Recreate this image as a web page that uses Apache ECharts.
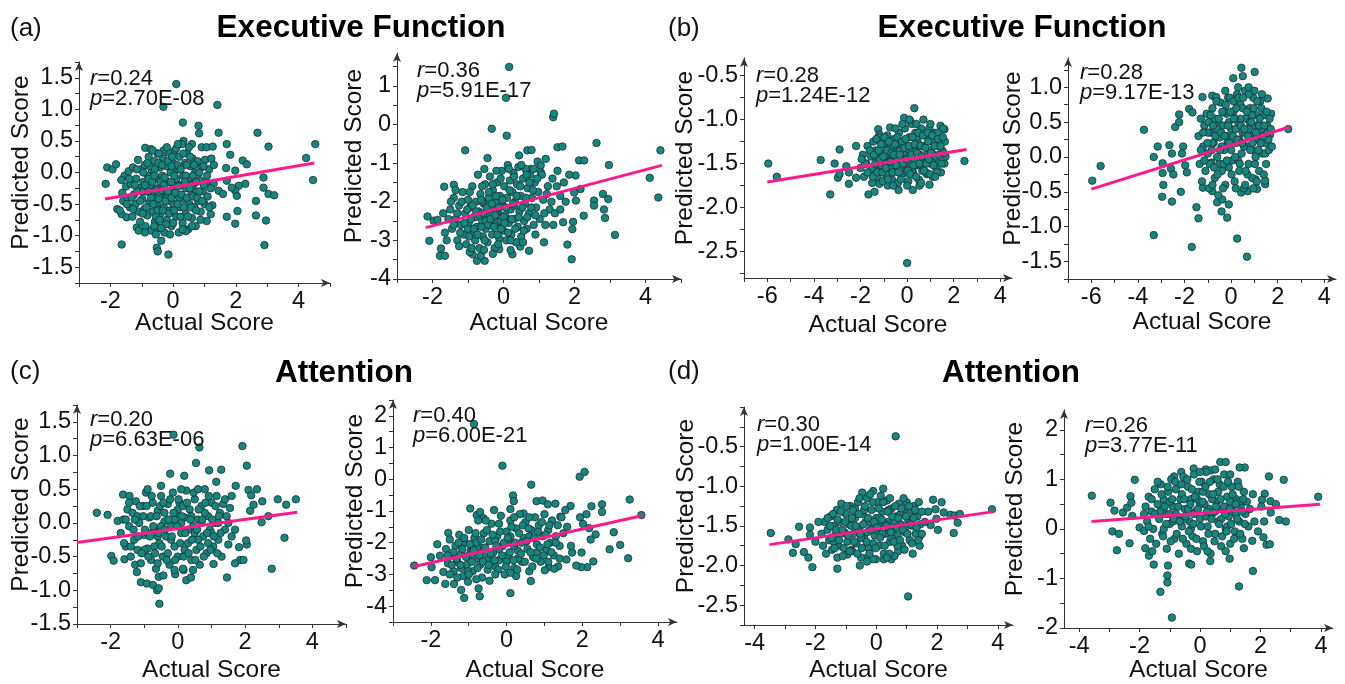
<!DOCTYPE html>
<html>
<head>
<meta charset="utf-8">
<title>Predicted vs actual scores</title>
<script src="https://cdn.jsdelivr.net/npm/echarts@6.0.0/dist/echarts.min.js"></script>
<style>
  html, body { margin: 0; padding: 0; background: #fff; }
  #chart { width: 1345px; height: 684px; }
</style>
</head>
<body>
<div id="chart"></div>
<script>
// ---- values ----
var titles = ['Executive Function', 'Executive Function', 'Attention', 'Attention'];
var panelTags = ['(a)', '(b)', '(c)', '(d)'];

var a1Stat = ['0.24', '2.70E-08'];
var a2Stat = ['0.36', '5.91E-17'];
var b1Stat = ['0.28', '1.24E-12'];
var b2Stat = ['0.28', '9.17E-13'];
var c1Stat = ['0.20', '6.63E-06'];
var c2Stat = ['0.40', '6.00E-21'];
var d1Stat = ['0.30', '1.00E-14'];
var d2Stat = ['0.26', '3.77E-11'];

var xLabelsAC = [-2, 0, 2, 4];
var xLabelsB = [-6, -4, -2, 0, 2, 4];
var xLabelsD = [-4, -2, 0, 2, 4];
var a1YLabels = [-1.5, -1, -0.5, 0, 0.5, 1, 1.5];
var a2YLabels = [-4, -3, -2, -1, 0, 1];
var b1YLabels = [-2.5, -2, -1.5, -1, -0.5];
var b2YLabels = [-1.5, -1, -0.5, 0, 0.5, 1];
var c1YLabels = [-1.5, -1, -0.5, 0, 0.5, 1, 1.5];
var c2YLabels = [-4, -3, -2, -1, 0, 1, 2];
var d1YLabels = [-2.5, -2, -1.5, -1, -0.5];
var d2YLabels = [-2, -1, 0, 1, 2];

var a1Fit = [[-2.17, -0.42], [4.5, 0.15]];
var a2Fit = [[-2.19, -2.67], [4.46, -1.06]];
var b1Fit = [[-6.0, -1.71], [2.55, -1.34]];
var b2Fit = [[-6.0, -0.46], [2.5, 0.43]];
var c1Fit = [[-3.0, -0.29], [3.55, 0.16]];
var c2Fit = [[-2.47, -2.76], [3.57, -1.15]];
var d1Fit = [[-3.51, -1.736], [3.86, -1.32]];
var d2Fit = [[-3.59, 0.15], [3.97, 0.5]];

var a1Points = [
  [-2.15,-0.18],[-2.1,0.08],[-1.93,0.05],[-1.82,0.13],[-1.64,-1.14],[-1.78,-0.58],[-1.64,-0.66],[-1.48,-0.71],
  [-1.59,-0.45],[-1.16,-0.87],[-1.1,-0.92],[-0.89,0.39],[-0.71,0.37],[-0.52,-1.19],[-0.49,-1.25],[-0.38,-1.08],
  [-0.15,-1.3],[-0.31,1.04],[0.1,1.4],[0.31,0.79],[0.83,0.62],[0.81,0.74],[1.41,1.07],[1.45,0.63],[0.33,0.5],
  [0.6,0.45],[0.91,0.4],[1.07,0.4],[1.26,0.41],[1.71,0.45],[1.82,0.28],[2.22,0.19],[2.35,0.13],[1.98,0.03],
  [2.09,-0.21],[2.3,-0.18],[1.98,-0.29],[2.03,-0.37],[1.69,0.07],[1.71,-0.13],[1.87,-0.24],[1.45,-0.29],
  [1.59,-0.34],[1.29,-0.18],[1.2,-0.66],[1.07,-0.77],[1.71,-0.7],[1.98,-0.81],[2.05,-0.61],[2.69,0.63],
  [3.04,0.41],[2.88,-0.08],[2.88,-0.24],[3.04,-0.34],[3.22,-0.36],[2.64,-0.45],[2.64,-0.68],[2.96,-0.76],
  [2.91,-1.15],[4.24,0.23],[4.53,0.45],[4.46,-0.12],
  [-1.62,-0.32],[-1.55,-0.05],[-1.5,-0.22],[-1.45,-0.4],[-1.42,0.02],[-1.38,-0.55],[-1.35,-0.18],[-1.3,-0.7],
  [-1.28,0.08],[-1.25,-0.35],[-1.2,-0.5],[-1.18,-0.1],[-1.12,0.2],[-1.1,-0.62],[-1.08,-0.25],[-1.05,-0.78],
  [-1.02,0.05],[-0.98,-0.42],[-0.95,-0.15],[-0.92,-0.58],[-0.9,0.12],[-0.88,-0.85],[-0.85,-0.3],[-0.82,-0.68],
  [-0.8,-0.05],[-0.78,0.25],[-0.75,-0.48],[-0.72,-0.2],[-0.7,-0.92],[-0.68,0.05],[-0.65,-0.62],[-0.62,-0.35],
  [-0.6,0.18],[-0.58,-0.78],[-0.55,-0.1],[-0.52,-0.5],[-0.5,0.3],[-0.48,-0.25],[-0.45,-0.88],[-0.42,0.08],
  [-0.4,-0.65],[-0.38,-0.4],[-0.35,-0.05],[-0.32,0.22],[-0.3,-0.55],[-0.28,-0.95],[-0.25,-0.3],[-0.22,0.1],
  [-0.2,-0.75],[-0.18,-0.15],[-0.15,0.32],[-0.12,-0.45],[-0.1,-0.6],[-0.08,0.0],[-0.05,-0.85],[-0.02,-0.28],
  [0.0,0.15],[0.02,-0.5],[0.05,0.35],[0.08,-0.12],[0.1,-0.7],[0.12,-0.35],[0.15,0.05],[0.18,-0.95],[0.2,0.25],
  [0.22,-0.55],[0.25,-0.2],[0.28,0.45],[0.3,-0.8],[0.32,-0.05],[0.35,-0.42],[0.38,0.15],[0.4,-0.65],[0.42,-0.25],
  [0.45,0.3],[0.48,-0.9],[0.5,-0.1],[0.52,-0.5],[0.55,0.1],[0.58,-0.35],[0.6,-0.72],[0.62,0.22],[0.65,-0.18],
  [0.68,-0.55],[0.7,0.0],[0.72,-0.85],[0.75,-0.3],[0.78,0.18],[0.8,-0.45],[0.85,-0.12],[0.88,-0.62],[0.9,0.08],
  [0.95,-0.3],[1.0,-0.5],[1.02,0.2],[1.05,-0.15],[1.1,-0.38],[1.15,0.05],[1.2,-0.25],[1.25,-0.52],[1.3,0.12],
  [-1.7,-0.6],[-1.65,-0.12],[-0.65,0.35],[-0.3,0.35],[0.1,0.38],[-0.9,-0.95],[-0.55,-0.98],[-0.1,-0.98],[0.4,-0.93],
  [-0.6,-0.3],[-0.4,-0.15],[-0.2,-0.4],[0.0,-0.2],[0.2,-0.4],[0.4,-0.05],[-0.8,-0.3],[-0.5,-0.6],[0.1,-0.1],
  [-0.3,-0.2],[0.6,-0.2],[-1.0,-0.3],
  [-1.15,-0.3],[-1.05,-0.45],[-0.95,0.0],[-0.9,-0.2],[-0.85,-0.55],[-0.78,-0.1],[-0.75,0.1],[-0.7,-0.4],
  [-0.66,-0.15],[-0.63,-0.5],[-0.58,0.05],[-0.55,-0.7],[-0.53,-0.28],[-0.47,0.15],[-0.45,-0.42],[-0.43,-0.75],
  [-0.37,-0.28],[-0.35,0.12],[-0.33,-0.6],[-0.27,-0.08],[-0.25,-0.45],[-0.23,-0.82],[-0.17,0.18],[-0.16,-0.3],
  [-0.13,-0.65],[-0.07,-0.15],[-0.05,-0.4],[-0.03,0.25],[0.03,-0.6],[0.04,-0.05],[0.07,-0.32],[0.13,0.12],
  [0.14,-0.5],[0.17,-0.22],[0.23,-0.7],[0.24,0.05],[0.27,-0.35],[0.33,0.3],[0.34,-0.55],[0.37,-0.15],
  [0.43,0.12],[0.44,-0.4],[0.47,-0.7],[0.53,-0.25],[0.54,0.25],[0.57,-0.55],[0.63,-0.05],[0.64,-0.38],
  [0.67,0.12],[0.73,-0.6],[0.74,-0.15],[0.77,-0.4],[0.83,0.0],[0.84,-0.3],[0.87,-0.75],[0.93,-0.45],
  [0.97,0.1],[-1.22,-0.2],[-1.32,-0.4],[-1.4,-0.1],[-1.48,-0.5],[-1.27,-0.58],[-1.16,0.05],[-0.97,-0.65],
  [-0.82,0.15],[-0.6,-0.85],[-0.38,-0.88],[0.0,-0.8],[0.3,-0.9],[0.6,-0.85],[0.5,0.4],[0.15,0.45],
  [-0.2,0.4],[-0.45,0.3],[1.08,-0.05],[1.15,-0.55],[1.22,0.22],[0.98,-0.2],[-0.05,0.1],[-0.6,-0.05]
];

var a2Points = [
  [0.16,1.49],[0.07,0.69],[1.4,0.19],[1.42,0.28],[-0.33,-0.11],[0.09,-0.29],[-1.08,-0.67],[2.62,-0.48],
  [1.52,-0.59],[1.66,-0.57],[4.42,-0.67],[2.97,-1.05],[2.13,-0.93],[2.27,-0.93],[4.12,-1.38],[4.36,-1.89],
  [2.8,-1.8],[2.95,-1.93],[2.83,-2.2],[2.86,-2.42],[2.55,-1.97],[2.55,-2.1],[3.14,-2.86],[2.26,-2.36],
  [1.94,-2.71],[1.96,-2.52],[1.68,-2.53],[1.8,-3.11],[1.92,-3.49],[1.99,-1.76],[2.04,-1.97],[2.17,-1.67],
  [2.03,-1.32],[-2.14,-2.38],[-2.09,-3.01],[-1.79,-3.4],[-1.65,-3.4],[-1.76,-3.21],[-1.67,-1.61],[-1.4,-1.56],
  [-1.97,-2.49],[-1.86,-2.47],[-0.75,-3.53],[-0.53,-3.53],[-0.64,-3.4],[-0.87,-3.36],[0.25,-3.36],[-0.12,-3.23],
  [0.47,-3.16],[0.72,-3.27],[1.14,-3.05],[-0.45,-0.87],[-0.54,-1.15],[0.44,-0.8],[0.67,-0.67],[0.79,-0.66],
  [0.96,-0.96],[1.19,-0.89],[1.05,-1.06],[1.05,-1.24],[0.77,-1.15],
  [-1.5,-2.2],[-1.45,-2.7],[-1.4,-1.9],[-1.35,-2.45],[-1.3,-3.0],[-1.25,-2.1],[-1.2,-2.6],[-1.15,-1.75],
  [-1.12,-2.85],[-1.08,-2.3],[-1.05,-3.1],[-1.0,-1.95],[-0.98,-2.55],[-0.95,-2.15],[-0.9,-2.8],[-0.88,-1.6],
  [-0.85,-2.4],[-0.8,-3.0],[-0.78,-2.0],[-0.75,-2.65],[-0.72,-1.3],[-0.7,-2.25],[-0.68,-3.2],[-0.65,-1.8],
  [-0.6,-2.5],[-0.58,-2.9],[-0.55,-2.05],[-0.52,-1.55],[-0.5,-2.7],[-0.48,-2.3],[-0.45,-3.05],[-0.42,-1.9],
  [-0.4,-2.5],[-0.38,-1.35],[-0.35,-2.15],[-0.32,-2.85],[-0.3,-1.7],[-0.28,-2.4],[-0.25,-3.2],[-0.22,-2.0],
  [-0.2,-2.6],[-0.18,-1.5],[-0.15,-2.25],[-0.12,-2.95],[-0.1,-1.85],[-0.08,-2.5],[-0.05,-1.2],[-0.02,-2.1],
  [0.0,-2.75],[0.02,-1.6],[0.05,-2.35],[0.08,-3.0],[0.1,-1.9],[0.12,-1.05],[0.15,-2.55],[0.18,-1.45],
  [0.2,-2.2],[0.22,-2.85],[0.25,-1.75],[0.28,-1.25],[0.3,-2.45],[0.32,-2.0],[0.35,-3.05],[0.38,-1.55],
  [0.4,-2.65],[0.42,-1.1],[0.45,-2.25],[0.48,-1.85],[0.5,-2.9],[0.55,-1.4],[0.58,-2.5],[0.6,-2.05],
  [0.62,-1.15],[0.65,-2.7],[0.68,-1.65],[0.72,-2.3],[0.75,-1.3],[0.8,-1.9],[0.85,-2.6],[0.88,-1.5],
  [0.92,-2.15],[0.98,-1.75],[1.02,-2.45],[1.08,-1.3],[1.12,-1.95],[1.18,-2.6],[1.25,-1.6],[1.3,-2.2],
  [1.38,-1.4],[1.45,-2.3],[1.52,-1.2],[1.6,-1.85],[1.7,-1.5],[1.75,-2.0],[1.85,-1.3],[-1.65,-2.8],
  [-1.7,-2.3],[-1.6,-3.0],[-0.3,-3.35],[-0.95,-3.3],[0.2,-3.25],[-0.6,-2.0],[-0.4,-2.2],[-0.2,-2.3],
  [0.0,-2.4],[-0.8,-2.4],[-0.5,-2.5],[0.3,-2.1],[-1.0,-2.7],
  [-1.3,-2.3],[-1.22,-2.8],[-1.18,-2.0],[-1.1,-2.55],[-1.02,-2.2],[-0.97,-2.9],[-0.92,-2.45],[-0.87,-2.1],
  [-0.83,-2.7],[-0.77,-2.25],[-0.73,-2.85],[-0.67,-2.35],[-0.63,-1.95],[-0.62,-2.65],[-0.57,-2.3],[-0.53,-3.0],
  [-0.47,-2.15],[-0.43,-2.6],[-0.41,-1.75],[-0.37,-2.45],[-0.33,-2.05],[-0.27,-2.65],[-0.23,-2.35],[-0.21,-1.85],
  [-0.17,-2.85],[-0.13,-2.15],[-0.07,-2.7],[-0.03,-1.95],[0.03,-2.55],[0.07,-2.15],[0.13,-2.8],[0.17,-1.7],
  [0.23,-2.45],[0.27,-2.05],[0.33,-2.7],[0.37,-1.85],[0.43,-2.4],[0.47,-1.6],[0.53,-2.15],[0.57,-2.75],
  [0.63,-1.9],[0.67,-2.4],[0.73,-1.5],[0.78,-2.15],[0.83,-1.7],[0.9,-2.35],[0.95,-1.4],[-1.4,-2.6],
  [-1.48,-2.0],[-1.55,-2.45],[-1.35,-1.7],[-1.25,-3.15],[-0.9,-3.2],[-0.55,-3.25],[-0.15,-3.1],[0.2,-3.0],
  [0.55,-3.05],[0.9,-2.85],[1.15,-2.3],[1.22,-1.8],[1.35,-2.0],[-0.08,-1.4],[0.3,-1.35],[-0.3,-1.55],
  [0.65,-1.3],[-0.6,-1.6],[-0.95,-1.75],[-0.2,-1.2],[0.15,-1.15],[0.5,-1.05],[0.85,-1.15],[1.5,-1.6],
  [1.6,-2.2],[1.4,-2.6]
];

var b1Points = [
  [-5.96,-1.5],[-5.59,-1.65],[-3.71,-1.46],[-3.3,-1.85],[-3.11,-1.5],[-2.9,-1.34],[-2.97,-1.66],[-2.9,-1.62],
  [-2.19,-1.3],[-2.61,-1.53],[-2.5,-1.6],[-2.5,-1.73],[-2.19,-1.66],[-1.66,-1.85],[-1.4,-1.82],[0.31,-0.87],
  [-0.13,-0.98],[0.14,-1.02],[0.0,-2.63],[2.46,-1.47],[-1.24,-1.11],[-0.73,-1.09],[-1.19,-1.17],[1.6,-1.11],
  [1.43,-1.07],[-0.37,-1.8],[0.24,-1.8],[0.53,-1.75],[0.96,-1.74],[-0.83,-1.75],[-1.19,-1.73],
  [-2.0,-1.55],[-1.9,-1.4],[-1.85,-1.65],[-1.75,-1.5],[-1.7,-1.3],[-1.62,-1.6],[-1.55,-1.42],[-1.5,-1.72],
  [-1.45,-1.25],[-1.4,-1.55],[-1.35,-1.35],[-1.3,-1.65],[-1.25,-1.48],[-1.2,-1.2],[-1.15,-1.58],[-1.1,-1.38],
  [-1.05,-1.7],[-1.0,-1.28],[-0.95,-1.5],[-0.9,-1.62],[-0.85,-1.18],[-0.8,-1.42],[-0.75,-1.55],[-0.7,-1.3],
  [-0.65,-1.68],[-0.6,-1.45],[-0.55,-1.22],[-0.5,-1.58],[-0.45,-1.35],[-0.4,-1.72],[-0.35,-1.15],[-0.3,-1.5],
  [-0.25,-1.28],[-0.2,-1.62],[-0.15,-1.4],[-0.1,-1.1],[-0.05,-1.55],[0.0,-1.32],[0.05,-1.7],[0.1,-1.2],
  [0.15,-1.48],[0.2,-1.05],[0.25,-1.6],[0.3,-1.35],[0.35,-1.15],[0.4,-1.52],[0.45,-1.25],[0.5,-1.68],
  [0.55,-1.4],[0.6,-1.1],[0.65,-1.58],[0.7,-1.3],[0.75,-1.45],[0.8,-1.18],[0.85,-1.62],[0.9,-1.38],
  [0.95,-1.1],[1.0,-1.5],[1.05,-1.25],[1.1,-1.65],[1.15,-1.4],[1.2,-1.15],[1.25,-1.55],[1.3,-1.3],
  [1.35,-1.48],[1.4,-1.2],[1.45,-1.6],[1.5,-1.35],[1.55,-1.1],[1.6,-1.5],[1.62,-1.25],[1.65,-1.42],
  [-0.9,-1.4],[-0.5,-1.45],[-0.1,-1.45],[0.3,-1.45],[0.7,-1.45],[1.1,-1.45],[-1.3,-1.45],[-0.7,-1.55],
  [-0.3,-1.35],[0.1,-1.35],[0.5,-1.3],[0.9,-1.25],[-0.2,-1.52],[0.2,-1.58],[0.6,-1.52],[1.0,-1.35],
  [-1.1,-1.52],[-0.6,-1.3],[0.0,-1.6],[0.4,-1.2],[0.8,-1.6],[1.3,-1.15],
  [-1.6,-1.35],[-1.52,-1.55],[-1.47,-1.65],[-1.42,-1.4],[-1.37,-1.5],[-1.32,-1.22],[-1.27,-1.6],[-1.22,-1.35],
  [-1.17,-1.45],[-1.12,-1.28],[-1.07,-1.6],[-1.02,-1.42],[-0.97,-1.2],[-0.92,-1.55],[-0.87,-1.35],[-0.82,-1.68],
  [-0.77,-1.25],[-0.72,-1.48],[-0.67,-1.38],[-0.62,-1.6],[-0.57,-1.4],[-0.52,-1.28],[-0.47,-1.52],[-0.42,-1.2],
  [-0.37,-1.6],[-0.32,-1.4],[-0.27,-1.68],[-0.22,-1.25],[-0.17,-1.5],[-0.12,-1.32],[-0.07,-1.22],[-0.02,-1.45],
  [0.03,-1.58],[0.08,-1.3],[0.13,-1.62],[0.18,-1.4],[0.23,-1.2],[0.28,-1.52],[0.33,-1.28],[0.38,-1.65],
  [0.43,-1.38],[0.48,-1.15],[0.53,-1.5],[0.58,-1.3],[0.63,-1.42],[0.68,-1.18],[0.73,-1.58],[0.78,-1.32],
  [0.83,-1.5],[0.88,-1.15],[0.93,-1.45],[0.98,-1.62],[1.03,-1.38],[1.08,-1.18],[1.13,-1.52],[1.18,-1.3],
  [1.23,-1.42],[1.28,-1.6],[1.33,-1.22],[1.38,-1.4],[1.43,-1.3],[1.48,-1.5],[1.53,-1.2],[1.58,-1.38],
  [-1.8,-1.5],[-1.7,-1.6],[-1.95,-1.45],[0.1,-1.0],[-0.2,-1.05],[0.4,-1.05],[0.7,-1.0],[1.0,-1.05],
  [-0.5,-1.1],[0.0,-1.75],[-0.6,-1.75],[0.6,-1.72],[1.2,-1.65]
];

var b2Points = [
  [-5.96,-0.34],[-5.6,-0.13],[-3.74,0.39],[-3.32,0.0],[-3.15,0.15],[-3.32,-1.12],[-2.94,-0.09],[-2.94,-0.23],
  [-2.91,-0.4],[-2.96,-0.57],[-2.54,-0.64],[-2.65,0.17],[-2.54,0.05],[-2.4,0.43],[-2.23,0.5],[-2.23,0.61],
  [-2.58,-0.17],[-2.48,-0.25],[-2.16,-0.5],[-2.06,0.15],[-2.11,0.05],[-1.97,-0.12],[-1.9,-0.22],[-1.69,-1.29],
  [-1.8,0.69],[-1.66,0.64],[-1.23,0.86],[-0.81,0.88],[-0.64,0.86],[-1.49,-0.72],[-1.4,-0.88],[-0.13,0.85],
  [0.09,1.13],[0.44,1.28],[0.5,1.16],[1.01,1.22],[0.26,-1.17],[0.68,-1.43],[2.45,0.4],[1.57,0.84],
  [1.67,0.32],[1.72,0.62],[-0.6,-0.65],[-0.38,-0.61],[-0.41,-0.78],[-0.17,-0.87],[-0.1,-0.68],[-0.81,-0.49],
  [-1.21,-0.44],[0.43,-0.51],[0.72,-0.49],[1.04,-0.32],[1.46,-0.39],[1.11,-0.46],[1.46,-0.34],
  [-1.4,0.3],[-1.35,-0.1],[-1.3,0.55],[-1.25,-0.35],[-1.2,0.15],[-1.15,0.45],[-1.1,-0.2],[-1.05,0.62],
  [-1.0,0.05],[-0.95,-0.45],[-0.9,0.35],[-0.85,-0.08],[-0.8,0.7],[-0.75,0.2],[-0.7,-0.3],[-0.65,0.5],
  [-0.6,0.0],[-0.55,-0.55],[-0.5,0.28],[-0.45,0.78],[-0.4,-0.2],[-0.35,0.45],[-0.3,0.1],[-0.25,-0.4],
  [-0.2,0.62],[-0.15,0.22],[-0.1,-0.15],[-0.05,0.85],[0.0,0.4],[0.05,-0.05],[0.1,0.65],[0.15,-0.35],
  [0.2,0.2],[0.25,0.9],[0.3,0.5],[0.35,-0.2],[0.4,0.75],[0.45,0.05],[0.5,0.35],[0.55,-0.45],
  [0.6,0.95],[0.65,0.55],[0.7,0.15],[0.75,-0.1],[0.8,0.7],[0.85,0.3],[0.9,-0.3],[0.95,0.85],
  [1.0,0.45],[1.05,0.0],[1.1,0.6],[1.15,0.25],[1.2,-0.2],[1.25,0.8],[1.3,0.4],[1.35,0.05],
  [1.4,0.6],[1.45,0.2],[1.5,-0.1],[1.55,0.45],[1.6,0.25],[1.65,0.55],[-0.6,0.4],[-0.2,0.3],
  [0.2,0.4],[0.6,0.35],[1.0,0.25],[-0.4,0.15],[0.0,0.1],[0.4,0.55],[0.8,0.5],[1.2,0.45],
  [-0.8,0.2],[-0.3,0.65],[0.1,0.8],[0.5,0.7],[0.9,0.6],[1.3,0.7],[-0.5,-0.1],[0.3,-0.05],
  [0.7,-0.25],[1.1,-0.35],[-1.0,0.35],[-0.1,0.5],[0.9,0.1],[0.35,0.25],[0.55,0.15],[-0.7,0.55],
  [0.15,0.55],[0.75,0.4],
  [-1.02,0.2],[-0.97,0.5],[-0.92,-0.1],[-0.88,0.6],[-0.83,0.1],[-0.78,0.45],[-0.73,-0.15],[-0.68,0.3],
  [-0.63,0.8],[-0.58,-0.25],[-0.53,0.55],[-0.48,0.1],[-0.43,0.35],[-0.38,0.65],[-0.33,-0.1],[-0.28,0.3],
  [-0.23,0.75],[-0.18,-0.05],[-0.13,0.45],[-0.08,0.2],[-0.03,0.65],[0.02,-0.25],[0.07,0.3],[0.12,0.55],
  [0.17,0.0],[0.22,0.7],[0.27,0.25],[0.32,0.85],[0.37,-0.1],[0.42,0.45],[0.47,0.2],[0.52,0.85],
  [0.57,0.4],[0.62,-0.2],[0.67,0.65],[0.72,0.3],[0.77,0.9],[0.82,0.1],[0.87,0.5],[0.92,0.2],
  [0.97,0.7],[1.02,-0.1],[1.07,0.35],[1.12,0.8],[1.17,0.1],[1.22,0.55],[1.27,0.2],[1.32,0.9],
  [1.37,0.3],[1.42,0.45],[1.47,0.05],[1.52,0.65],[1.57,0.35],[1.62,0.1],[-1.3,0.1],[-1.2,0.35],
  [-1.15,-0.05],[-0.25,0.95],[0.3,1.0],[0.75,1.0],[1.0,0.95],[0.95,-0.45],[0.6,-0.4],[0.2,-0.45],
  [-0.35,-0.45],[-0.8,-0.4],[1.4,-0.25],[1.7,0.4],[1.75,0.15]
];

var c1Points = [
  [-2.41,0.15],[-2.09,0.12],[-1.98,-0.49],[-1.91,-0.56],[-1.79,0.03],[-1.63,0.42],[-1.44,0.4],[-1.59,-0.54],
  [-1.27,-0.62],[-1.22,-0.73],[-1.1,-0.88],[-0.92,-0.9],[-0.74,-0.92],[-0.62,-1.0],[-0.57,-0.97],[-0.55,-1.2],
  [-0.57,-0.8],[-0.43,-0.78],[-0.08,-0.76],[0.17,-0.7],[0.25,-0.85],[0.39,-0.81],[-0.13,1.31],[-0.23,0.73],
  [0.19,0.7],[0.54,0.89],[0.64,1.12],[0.93,0.78],[1.29,0.79],[1.14,0.61],[1.92,1.14],[2.05,0.85],
  [1.72,0.55],[2.35,0.5],[2.1,0.49],[2.18,0.41],[2.51,0.32],[2.49,0.01],[2.69,0.1],[2.97,0.35],
  [3.22,0.27],[3.51,0.35],[3.17,-0.22],[2.79,-0.68],[2.05,-0.32],[1.82,-0.36],[1.85,-0.55],[1.95,-0.55],
  [2.03,-0.26],[1.7,-0.6],[1.46,-0.81],[1.06,-0.61],[2.15,0.18],[2.25,0.27],
  [-1.7,-0.15],[-1.62,0.05],[-1.55,-0.35],[-1.5,0.2],[-1.45,-0.05],[-1.4,-0.5],[-1.35,0.15],[-1.3,-0.25],
  [-1.25,0.32],[-1.2,-0.4],[-1.15,0.0],[-1.1,-0.6],[-1.05,0.25],[-1.0,-0.18],[-0.95,0.45],[-0.9,-0.38],
  [-0.85,0.08],[-0.8,-0.55],[-0.75,0.3],[-0.7,-0.1],[-0.65,-0.68],[-0.6,0.18],[-0.55,-0.3],[-0.5,0.4],
  [-0.45,-0.5],[-0.4,0.02],[-0.35,-0.2],[-0.3,0.28],[-0.25,-0.62],[-0.2,-0.05],[-0.15,0.45],[-0.1,-0.35],
  [-0.05,0.12],[0.0,-0.5],[0.05,0.3],[0.1,-0.15],[0.15,-0.68],[0.2,0.08],[0.25,0.48],[0.3,-0.3],
  [0.35,0.2],[0.4,-0.55],[0.45,-0.05],[0.5,0.35],[0.55,-0.4],[0.6,0.05],[0.65,-0.62],[0.7,0.25],
  [0.75,-0.2],[0.8,0.5],[0.85,-0.45],[0.9,0.1],[0.95,-0.1],[1.0,0.3],[1.05,-0.35],[1.1,0.0],
  [1.15,0.4],[1.2,-0.25],[1.25,0.15],[1.3,-0.5],[1.35,0.28],[1.4,-0.1],[1.45,0.1],[1.5,-0.32],
  [1.55,0.22],[1.6,-0.2],[-1.0,-0.4],[-0.6,-0.2],[-0.2,-0.25],[0.2,-0.4],[0.6,-0.25],[1.0,-0.15],
  [-0.8,0.1],[-0.4,0.15],[0.0,0.2],[0.4,0.1],[0.8,0.15],[-1.2,0.1],[-0.3,-0.45],[0.1,0.0],
  [0.5,-0.15],[0.9,-0.3],[-0.7,-0.35],[-0.1,0.05],[0.3,-0.1],[0.7,0.0],[-0.5,-0.05],[0.15,0.25],
  [-0.9,-0.15],[1.2,0.0],
  [-1.32,-0.1],[-1.28,0.05],[-1.18,-0.2],[-1.13,0.25],[-1.08,-0.45],[-1.03,0.1],[-0.98,-0.1],[-0.93,0.25],
  [-0.88,-0.5],[-0.83,-0.2],[-0.78,0.4],[-0.73,-0.05],[-0.68,-0.45],[-0.63,0.1],[-0.58,-0.15],[-0.53,0.25],
  [-0.48,-0.35],[-0.43,0.3],[-0.38,-0.1],[-0.33,-0.55],[-0.28,0.05],[-0.23,0.35],[-0.18,-0.2],[-0.13,0.15],
  [-0.08,-0.55],[-0.03,-0.05],[0.02,0.35],[0.07,-0.3],[0.12,0.1],[0.17,-0.5],[0.22,-0.15],[0.27,0.3],
  [0.32,-0.45],[0.37,0.05],[0.42,-0.25],[0.47,0.45],[0.52,-0.55],[0.57,-0.1],[0.62,0.2],[0.67,-0.35],
  [0.72,0.05],[0.77,-0.5],[0.82,0.3],[0.87,-0.15],[0.92,0.4],[0.97,-0.4],[1.02,0.05],[1.07,-0.2],
  [1.12,0.25],[1.17,-0.45],[1.22,0.1],[1.27,-0.15],[-1.45,0.3],[-1.55,0.05],[-1.6,-0.3],[-1.4,-0.35],
  [-0.9,0.5],[-0.5,0.55],[0.1,0.5],[0.6,0.5],[-0.6,-0.6],[-0.1,-0.7],[0.45,-0.7],[1.4,0.35],
  [1.5,0.0],[1.6,0.4],[1.7,-0.1]
];

var c2Points = [
  [-0.86,1.74],[-0.11,0.43],[0.65,-0.17],[1.93,0.08],[2.06,0.23],[3.25,-0.64],[3.56,-1.13],[2.52,-0.79],
  [2.52,-1.03],[2.24,-0.85],[2.11,-1.1],[1.94,-1.2],[2.02,-1.41],[2.18,-1.54],[2.35,-1.74],[2.22,-1.9],
  [2.83,-1.67],[3.0,-2.07],[2.72,-2.21],[3.21,-2.49],[2.29,-2.59],[2.13,-2.77],[1.97,-2.77],[1.84,-2.72],
  [1.73,-2.31],[1.58,-2.53],[1.98,-2.31],[1.11,-2.77],[1.36,-2.75],[1.26,-2.82],[1.01,-2.87],[0.64,-3.21],
  [0.1,-3.59],[-0.71,-3.69],[-0.74,-3.44],[-1.12,-3.74],[-1.2,-3.49],[-1.02,-3.23],[-2.44,-2.72],[-2.11,-3.18],
  [-1.89,-3.18],[-1.62,-3.3],[-1.39,-3.3],[-1.83,-2.05],[-1.54,-1.69],[-2.0,-2.46],[-1.98,-2.77],[-1.76,-2.41],
  [-1.67,-2.92],[-0.96,-0.92],[-0.79,-1.13],[-0.7,-1.03],[-0.61,-1.23],[-0.33,-0.97],[0.17,-0.51],[0.19,-0.69],
  [0.1,-0.94],[0.45,-1.08],[0.79,-0.69],[0.95,-0.67],[1.09,-0.79],[1.29,-0.77],[1.69,-0.84],[1.55,-0.97],
  [1.42,-1.18],
  [-1.6,-2.2],[-1.55,-2.65],[-1.5,-1.9],[-1.45,-2.4],[-1.4,-2.9],[-1.35,-2.1],[-1.3,-2.6],[-1.25,-1.75],
  [-1.2,-2.35],[-1.15,-3.05],[-1.1,-2.0],[-1.05,-2.7],[-1.0,-1.6],[-0.95,-2.25],[-0.9,-2.9],[-0.85,-1.85],
  [-0.8,-2.5],[-0.75,-1.3],[-0.7,-2.15],[-0.65,-3.1],[-0.6,-1.7],[-0.55,-2.45],[-0.5,-2.85],[-0.45,-1.95],
  [-0.4,-1.4],[-0.35,-2.3],[-0.3,-2.75],[-0.25,-1.8],[-0.2,-2.55],[-0.15,-1.15],[-0.1,-2.1],[-0.05,-3.0],
  [0.0,-1.65],[0.05,-2.4],[0.1,-1.3],[0.15,-2.0],[0.2,-2.8],[0.25,-1.55],[0.3,-2.25],[0.35,-1.1],
  [0.4,-2.6],[0.45,-1.85],[0.5,-1.35],[0.55,-2.2],[0.6,-2.9],[0.65,-1.6],[0.7,-2.45],[0.75,-1.2],
  [0.8,-2.05],[0.85,-1.45],[0.9,-2.6],[0.95,-1.8],[1.0,-1.1],[1.05,-2.25],[1.1,-1.6],[1.15,-2.0],
  [1.2,-1.3],[1.25,-2.4],[1.3,-1.8],[1.35,-1.45],[1.4,-2.1],[1.45,-1.2],[1.5,-1.7],[-0.6,-2.2],
  [-0.2,-2.2],[0.2,-2.1],[-1.0,-2.4],[-0.4,-2.6],[0.0,-2.6],[0.4,-2.0],[-0.8,-2.0],[-0.3,-1.95],
  [0.1,-1.8],[0.6,-1.8],[-1.2,-2.8],[-0.5,-2.55],[0.3,-2.5],[-0.7,-2.7],[0.0,-2.0],[-0.9,-2.2],
  [0.8,-2.3],[1.1,-2.6],[-1.4,-2.3],[-0.45,-3.2],[0.25,-3.05],
  [-1.32,-2.5],[-1.27,-2.0],[-1.22,-2.7],[-1.17,-2.2],[-1.12,-1.85],[-1.07,-2.45],[-1.02,-2.9],[-0.97,-2.05],
  [-0.92,-2.6],[-0.87,-2.25],[-0.82,-1.7],[-0.77,-2.8],[-0.72,-2.4],[-0.67,-1.9],[-0.62,-2.6],[-0.57,-2.15],
  [-0.52,-1.6],[-0.47,-2.7],[-0.42,-2.35],[-0.37,-1.75],[-0.32,-2.55],[-0.27,-2.1],[-0.22,-2.85],[-0.17,-1.65],
  [-0.12,-2.4],[-0.07,-2.0],[-0.02,-2.75],[0.03,-1.85],[0.08,-2.3],[0.13,-1.5],[0.18,-2.55],[0.23,-2.0],
  [0.28,-2.85],[0.33,-1.7],[0.38,-2.35],[0.43,-1.45],[0.48,-2.6],[0.53,-1.95],[0.58,-1.55],[0.63,-2.3],
  [0.68,-2.75],[0.73,-1.85],[0.78,-2.5],[0.83,-1.65],[0.88,-2.15],[0.93,-1.35],[0.98,-2.4],[1.03,-1.75],
  [1.08,-2.05],[1.13,-1.45],[1.18,-2.3],[-1.45,-2.7],[-1.55,-2.4],[-1.5,-3.0],[-1.3,-3.1],[-1.0,-3.0],
  [-0.8,-3.15],[-0.3,-3.0],[0.1,-2.95],[-0.55,-1.3],[-0.2,-1.4],[0.2,-1.2],[0.6,-1.2],[1.3,-2.0],
  [1.4,-2.5],[1.6,-1.5],[1.7,-2.1]
];

var d1Points = [
  [-3.47,-1.59],[-2.89,-1.67],[-2.74,-1.84],[-2.54,-1.51],[-2.18,-1.52],[-2.18,-1.61],[-2.38,-1.83],[-2.23,-1.9],
  [-2.1,-2.02],[-2.65,-1.73],[-1.28,-2.04],[-1.28,-1.9],[-0.54,-2.0],[-0.46,-1.08],[-0.1,-1.06],[0.23,-1.03],
  [0.64,-0.37],[1.05,-2.39],[1.87,-1.17],[2.15,-1.2],[1.95,-1.29],[1.98,-1.41],[2.03,-1.55],[1.71,-1.32],
  [2.44,-1.36],[2.58,-1.37],[2.68,-1.46],[2.55,-1.59],[2.75,-1.35],[3.81,-1.29],[2.22,-1.33],[1.79,-1.49],
  [1.43,-1.63],[1.43,-1.75],[0.72,-1.82],[0.5,-1.92],[0.25,-1.92],[-0.01,-1.92],[-0.3,-1.9],[-0.81,-1.8],
  [-0.95,-1.86],
  [-1.8,-1.6],[-1.75,-1.75],[-1.7,-1.45],[-1.65,-1.85],[-1.6,-1.55],[-1.55,-1.68],[-1.5,-1.38],[-1.45,-1.8],
  [-1.4,-1.5],[-1.35,-1.62],[-1.3,-1.3],[-1.25,-1.75],[-1.2,-1.45],[-1.15,-1.22],[-1.1,-1.88],[-1.05,-1.58],
  [-1.0,-1.35],[-0.95,-1.7],[-0.9,-1.48],[-0.85,-1.25],[-0.8,-1.82],[-0.75,-1.6],[-0.7,-1.4],[-0.65,-1.72],
  [-0.6,-1.2],[-0.55,-1.52],[-0.5,-1.9],[-0.45,-1.35],[-0.4,-1.65],[-0.35,-1.45],[-0.3,-1.15],[-0.25,-1.78],
  [-0.2,-1.55],[-0.15,-1.3],[-0.1,-1.92],[-0.05,-1.62],[0.0,-1.4],[0.05,-1.2],[0.1,-1.75],[0.15,-1.5],
  [0.2,-1.32],[0.25,-1.85],[0.3,-1.6],[0.35,-1.18],[0.4,-1.45],[0.45,-1.7],[0.5,-1.28],[0.55,-1.55],
  [0.6,-1.88],[0.65,-1.38],[0.7,-1.62],[0.75,-1.22],[0.8,-1.48],[0.85,-1.75],[0.9,-1.32],[0.95,-1.58],
  [1.0,-1.2],[1.05,-1.42],[1.1,-1.68],[1.15,-1.3],[1.2,-1.5],[1.25,-1.25],[1.3,-1.6],[1.35,-1.38],
  [1.4,-1.2],[1.45,-1.48],[1.5,-1.32],[-1.0,-1.6],[-0.6,-1.55],[-0.2,-1.45],[0.2,-1.6],[0.6,-1.45],
  [1.0,-1.5],[-0.8,-1.4],[-0.4,-1.3],[0.0,-1.55],[0.4,-1.3],[0.8,-1.35],[-1.2,-1.6],[-0.5,-1.65],
  [0.1,-1.4],[0.5,-1.65],[-0.1,-1.72],[0.7,-1.75],[-0.3,-1.58],[0.3,-1.48],[1.2,-1.4],[-1.4,-1.7],
  [-0.7,-1.28],
  [-1.52,-1.5],[-1.47,-1.65],[-1.42,-1.35],[-1.37,-1.78],[-1.32,-1.55],[-1.27,-1.42],[-1.22,-1.68],[-1.17,-1.32],
  [-1.12,-1.55],[-1.07,-1.78],[-1.02,-1.45],[-0.97,-1.25],[-0.92,-1.62],[-0.87,-1.82],[-0.82,-1.5],[-0.77,-1.3],
  [-0.72,-1.7],[-0.67,-1.5],[-0.62,-1.85],[-0.57,-1.35],[-0.52,-1.6],[-0.47,-1.78],[-0.42,-1.48],[-0.37,-1.25],
  [-0.32,-1.7],[-0.27,-1.4],[-0.22,-1.85],[-0.17,-1.55],[-0.12,-1.2],[-0.07,-1.45],[-0.02,-1.78],[0.03,-1.52],
  [0.08,-1.28],[0.13,-1.65],[0.18,-1.42],[0.23,-1.2],[0.28,-1.75],[0.33,-1.5],[0.38,-1.32],[0.43,-1.85],
  [0.48,-1.58],[0.53,-1.38],[0.58,-1.7],[0.63,-1.25],[0.68,-1.52],[0.73,-1.4],[0.78,-1.68],[0.83,-1.28],
  [0.88,-1.55],[0.93,-1.8],[0.98,-1.38],[1.03,-1.6],[1.08,-1.25],[1.13,-1.48],[1.18,-1.72],[1.23,-1.4],
  [1.28,-1.3],[1.33,-1.52],[1.38,-1.68],[-1.9,-1.45],[-2.0,-1.7],[-1.6,-1.4],[-0.55,-1.15],[-0.2,-1.1],
  [0.15,-1.12],[0.45,-1.15],[0.9,-1.15],[-0.3,-1.95],[0.35,-1.9],[1.2,-1.85],[1.6,-1.45],[1.5,-1.6]
];

var d2Points = [
  [-3.58,0.67],[-2.96,0.53],[-2.83,0.37],[-2.9,-0.05],[-2.68,-0.1],[-2.75,-0.43],[-2.55,0.33],[-2.41,0.43],
  [-2.3,0.66],[-2.27,0.53],[-2.24,0.26],[-2.33,-0.29],[-2.16,0.99],[-2.0,0.03],[-1.85,-0.04],[-1.81,-0.39],
  [-1.69,-0.54],[-1.53,-0.72],[-1.58,-0.45],[-1.31,-1.27],[-1.08,-1.08],[-1.06,-0.74],[-0.93,-1.79],[-1.08,-0.94],
  [-0.36,-0.7],[-0.29,-0.72],[0.34,-0.65],[1.29,-1.16],[1.75,-0.85],[0.98,-0.6],[1.45,-0.39],[1.73,-0.24],
  [1.92,-0.05],[2.12,0.15],[2.1,-0.17],[2.2,-0.32],[2.31,-0.31],[2.28,1.06],[2.77,0.99],[2.14,0.71],
  [2.05,0.59],[2.03,0.45],[2.33,0.56],[2.51,0.5],[2.62,0.18],[2.84,0.15],[2.34,0.33],[3.91,0.65],
  [0.67,1.35],[0.85,1.35],[1.48,1.24],[1.31,1.24],[-0.21,1.22],[0.19,1.2],[0.35,1.18],[-0.86,1.06],
  [-0.62,1.15],
  [-1.8,0.45],[-1.75,0.15],[-1.7,0.65],[-1.65,-0.2],[-1.6,0.35],[-1.55,0.0],[-1.5,0.8],[-1.45,-0.3],
  [-1.4,0.5],[-1.35,0.2],[-1.3,0.9],[-1.25,-0.1],[-1.2,0.6],[-1.15,0.3],[-1.1,-0.4],[-1.05,0.75],
  [-1.0,0.1],[-0.95,1.0],[-0.9,0.45],[-0.85,-0.2],[-0.8,0.8],[-0.75,0.25],[-0.7,-0.5],[-0.65,0.6],
  [-0.6,0.05],[-0.55,1.05],[-0.5,0.4],[-0.45,-0.3],[-0.4,0.85],[-0.35,0.15],[-0.3,0.6],[-0.25,-0.15],
  [-0.2,1.1],[-0.15,0.35],[-0.1,-0.45],[-0.05,0.75],[0.0,0.2],[0.05,0.95],[0.1,-0.25],[0.15,0.5],
  [0.2,1.15],[0.25,0.05],[0.3,0.7],[0.35,-0.5],[0.4,0.3],[0.45,1.0],[0.5,-0.1],[0.55,0.55],
  [0.6,0.15],[0.65,0.9],[0.7,-0.35],[0.75,0.4],[0.8,1.1],[0.85,0.0],[0.9,0.65],[0.95,0.25],
  [1.0,-0.3],[1.05,0.85],[1.1,0.35],[1.15,-0.05],[1.2,0.6],[1.25,0.95],[1.3,0.15],[1.35,0.45],
  [1.4,-0.2],[1.45,0.75],[1.5,0.3],[1.55,0.55],[1.6,0.05],[-0.8,0.3],[-0.4,0.4],[0.0,0.5],
  [0.4,0.6],[0.8,0.45],[1.2,0.3],[-1.0,0.55],[-0.6,0.7],[-0.2,0.3],[0.2,0.25],[0.6,0.75],
  [1.0,0.55],[-1.2,0.0],[-0.3,0.0],[0.3,0.4],[0.9,0.05],[-0.5,0.2],[0.1,0.75],[0.7,0.2],
  [-0.9,0.15],[0.5,0.35],[-0.1,0.6],[1.3,0.55],
  [-1.32,0.35],[-1.27,0.7],[-1.22,-0.15],[-1.17,0.45],[-1.12,0.1],[-1.07,0.85],[-1.02,0.3],[-0.97,-0.25],
  [-0.92,0.6],[-0.87,0.2],[-0.82,0.95],[-0.77,-0.1],[-0.72,0.45],[-0.67,0.15],[-0.62,0.9],[-0.57,-0.2],
  [-0.52,0.6],[-0.47,0.25],[-0.42,1.0],[-0.37,-0.05],[-0.32,0.5],[-0.27,0.8],[-0.22,0.1],[-0.17,0.65],
  [-0.12,-0.2],[-0.07,0.4],[-0.02,0.95],[0.03,0.05],[0.08,0.55],[0.13,-0.35],[0.18,0.85],[0.23,0.35],
  [0.28,-0.1],[0.33,0.95],[0.38,0.2],[0.43,0.7],[0.48,-0.25],[0.53,0.45],[0.58,1.0],[0.63,0.1],
  [0.68,0.6],[0.73,-0.15],[0.78,0.85],[0.83,0.3],[0.88,-0.05],[0.93,0.95],[0.98,0.4],[1.03,0.1],
  [1.08,0.7],[1.13,-0.2],[1.18,0.5],[1.23,0.2],[1.28,0.85],[1.33,-0.1],[1.38,0.35],[1.43,0.6],
  [1.48,0.1],[-1.5,0.3],[-1.6,0.6],[-1.7,0.05],[-1.85,0.3],[-1.4,0.95],[0.0,1.15],[0.5,1.2],
  [1.0,1.1],[-0.3,-0.4],[0.25,-0.45],[0.85,-0.45],[1.65,0.4],[1.75,0.7],[1.8,0.15]
];

// ---- layout (pixels) ----
var FONT = "'Liberation Sans', Arial, Helvetica, sans-serif";

var panels = [
  { pts: a1Points, fit: a1Fit, stat: a1Stat, xLab: xLabelsAC, yLab: a1YLabels, dec: 1,
    grid: [79, 62, 251, 221], x: [-3, 5], y: [-1.75, 1.75], yStep: 0.25, yGap: 45, xGap: 28, txt: [90, 69] },
  { pts: a2Points, fit: a2Fit, stat: a2Stat, xLab: xLabelsAC, yLab: a2YLabels, dec: 0,
    grid: [397, 53, 284, 226], x: [-3, 5], y: [-4, 1.85], yStep: 0.5, yGap: 30, xGap: 32, txt: [417, 61] },
  { pts: b1Points, fit: b1Fit, stat: b1Stat, xLab: xLabelsB, yLab: b1YLabels, dec: 1,
    grid: [744, 58, 268, 220], x: [-7, 4.5], y: [-2.8, -0.3], yStep: 0.25, yGap: 46, xGap: 35, txt: [756, 66] },
  { pts: b2Points, fit: b2Fit, stat: b2Stat, xLab: xLabelsB, yLab: b2YLabels, dec: 1,
    grid: [1068, 58, 268, 221], x: [-7, 4.5], y: [-1.75, 1.42], yStep: 0.25, yGap: 42, xGap: 31, txt: [1080, 63] },
  { pts: c1Points, fit: c1Fit, stat: c1Stat, xLab: xLabelsAC, yLab: c1YLabels, dec: 1,
    grid: [77, 405, 269, 222], x: [-3, 5], y: [-1.5, 1.75], yStep: 0.25, yGap: 43, xGap: 34, txt: [90, 410] },
  { pts: c2Points, fit: c2Fit, stat: c2Stat, xLab: xLabelsAC, yLab: c2YLabels, dec: 0,
    grid: [393, 400, 284, 227], x: [-3, 4.5], y: [-4.5, 2.5], yStep: 0.5, yGap: 25, xGap: 36, txt: [413, 406] },
  { pts: d1Points, fit: d1Fit, stat: d1Stat, xLab: xLabelsD, yLab: d1YLabels, dec: 1,
    grid: [744, 407, 269, 221], x: [-4.35, 4.5], y: [-2.75, 0], yStep: 0.25, yGap: 45, xGap: 33, txt: [757, 415] },
  { pts: d2Points, fit: d2Fit, stat: d2Stat, xLab: xLabelsD, yLab: d2YLabels, dec: 0,
    grid: [1064, 410, 269, 219], x: [-4.5, 4.4], y: [-2, 2.4], yStep: 0.5, yGap: 36, xGap: 30, txt: [1085, 416] }
];

var titlePos = [[361, 28], [1022, 28], [344, 373], [1011, 373]];
var tagPos = [[10, 29], [668, 29], [10, 372], [668, 372]];

function ticks(min, max, step) {
  var out = [];
  var v = Math.ceil(min / step - 1e-9) * step;
  for (; v <= max + 1e-9; v += step) out.push(Math.round(v * 1000) / 1000);
  return out;
}

var axisLineStyle = { color: '#333', width: 1 };

var grids = [], xAxes = [], yAxes = [], series = [], graphics = [];

panels.forEach(function (p, i) {
  grids.push({ left: p.grid[0], top: p.grid[1], width: p.grid[2], height: p.grid[3] });

  xAxes.push({
    type: 'value', gridIndex: i, min: p.x[0], max: p.x[1],
    name: 'Actual Score', nameLocation: 'middle', nameGap: p.xGap, nameMoveOverlap: false,
    nameTextStyle: { fontFamily: FONT, fontSize: 24.5, color: '#111' },
    axisLine: { show: true, onZero: false, lineStyle: axisLineStyle, symbol: ['none', 'arrow'], symbolSize: [6, 9] },
    axisTick: { show: true, length: 4, lineStyle: axisLineStyle, customValues: ticks(p.x[0], p.x[1], 1) },
    axisLabel: { customValues: p.xLab, fontFamily: FONT, fontSize: 23.5, color: '#111', margin: 7 },
    splitLine: { show: false }
  });

  yAxes.push({
    type: 'value', gridIndex: i, min: p.y[0], max: p.y[1],
    name: 'Predicted Score', nameLocation: 'middle', nameGap: p.yGap, nameMoveOverlap: false,
    // name sits a little above the axis centre in the figure
    nameTextStyle: { fontFamily: FONT, fontSize: 24.5, color: '#111', padding: [0, 0, 0, 20] },
    axisLine: { show: true, onZero: false, lineStyle: axisLineStyle, symbol: ['none', 'arrow'], symbolSize: [6, 9] },
    axisTick: { show: true, length: 4, lineStyle: axisLineStyle, customValues: ticks(p.y[0], p.y[1], p.yStep) },
    axisLabel: {
      customValues: p.yLab, fontFamily: FONT, fontSize: 23.5, color: '#111', margin: 6,
      formatter: (function (dec) { return function (v) { return Number(v).toFixed(dec); }; })(p.dec)
    },
    splitLine: { show: false }
  });

  series.push({
    type: 'scatter', xAxisIndex: i, yAxisIndex: i, data: p.pts,
    symbolSize: 7.5, z: 2,
    itemStyle: { color: '#15877f', borderColor: '#1d2e2e', borderWidth: 0.8, opacity: 1 }
  });
  series.push({
    type: 'line', xAxisIndex: i, yAxisIndex: i, data: p.fit,
    symbol: 'none', z: 3,
    lineStyle: { color: '#ff1a8c', width: 3 }
  });

  graphics.push({
    type: 'text', x: p.txt[0], y: p.txt[1], z: 10,
    style: {
      text: '{i|r}=' + p.stat[0] + '\n{i|p}=' + p.stat[1],
      fontFamily: FONT, fontSize: 22, lineHeight: 20, fill: '#111',
      rich: { i: { fontStyle: 'italic', fontFamily: FONT, fontSize: 22, lineHeight: 20 } }
    }
  });
});

titles.forEach(function (t, k) {
  graphics.push({
    type: 'text', x: titlePos[k][0], y: titlePos[k][1],
    style: { text: t, fontFamily: FONT, fontWeight: 'bold', fontSize: 31.5, fill: '#000',
             align: 'center', verticalAlign: 'middle' }
  });
  graphics.push({
    type: 'text', x: tagPos[k][0], y: tagPos[k][1],
    style: { text: panelTags[k], fontFamily: FONT, fontSize: 26, fill: '#111',
             align: 'left', verticalAlign: 'middle' }
  });
});

var chart = echarts.init(document.getElementById('chart'));
chart.setOption({
  animation: false,
  backgroundColor: '#fff',
  grid: grids,
  xAxis: xAxes,
  yAxis: yAxes,
  series: series,
  graphic: graphics
});
</script>
</body>
</html>
